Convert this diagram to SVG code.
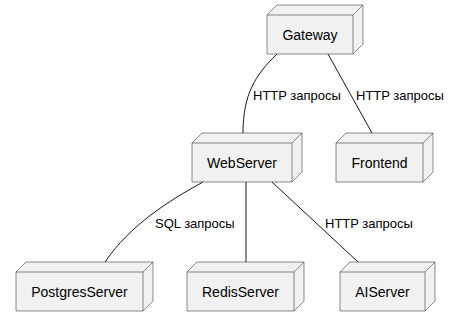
<svg xmlns="http://www.w3.org/2000/svg" width="450" height="326" viewBox="0 0 450 326">
  <style>
    .box { fill: #F1F1F1; stroke: #181818; stroke-width: 0.5; }
    .edge { fill: none; stroke: #181818; stroke-width: 1; }
    .name { font-family: "Liberation Sans", Arial, sans-serif; font-size: 14px; fill: #000000; text-anchor: middle; }
    .lbl { font-family: "Liberation Sans", Arial, sans-serif; font-size: 13px; fill: #000000; }
  </style>
  <rect width="450" height="326" fill="#FFFFFF"/>

  <!-- connectors -->
  <g id="edges">
    <path class="edge" d="M277,54 C255,75 243,95 243,133"/>
    <text class="lbl" x="253" y="100">HTTP запросы</text>
    <path class="edge" d="M328,54 L372,133"/>
    <text class="lbl" x="356" y="100">HTTP запросы</text>
    <path class="edge" d="M203,182 C170,200 130,225 105,262"/>
    <text class="lbl" x="155" y="228">SQL запросы</text>
    <path class="edge" d="M246,182 L246,262"/>
    <path class="edge" d="M272,182 L358,262"/>
    <text class="lbl" x="325" y="228">HTTP запросы</text>
  </g>

  <!-- nodes: 3D boxes, depth 10 -->
  <g id="gateway">
    <path class="box" d="M267,15 L277,5 L363,5 L363,44 L353,54 L267,54 Z M353,15 L363,5 M267,15 L353,15 L353,54"/>
    <text class="name" x="310" y="39.5">Gateway</text>
  </g>
  <g id="webserver">
    <path class="box" d="M192,143 L202,133 L302,133 L302,172 L292,182 L192,182 Z M292,143 L302,133 M192,143 L292,143 L292,182"/>
    <text class="name" x="242" y="167.5">WebServer</text>
  </g>
  <g id="frontend">
    <path class="box" d="M336,143 L346,133 L433,133 L433,172 L423,182 L336,182 Z M423,143 L433,133 M336,143 L423,143 L423,182"/>
    <text class="name" x="379.5" y="167.5">Frontend</text>
  </g>
  <g id="postgresserver">
    <path class="box" d="M16,272 L26,262 L153,262 L153,301 L143,311 L16,311 Z M143,272 L153,262 M16,272 L143,272 L143,311"/>
    <text class="name" x="79.5" y="296.5">PostgresServer</text>
  </g>
  <g id="redisserver">
    <path class="box" d="M187,272 L197,262 L304,262 L304,301 L294,311 L187,311 Z M294,272 L304,262 M187,272 L294,272 L294,311"/>
    <text class="name" x="240.5" y="296.5">RedisServer</text>
  </g>
  <g id="aiserver">
    <path class="box" d="M340,272 L350,262 L435,262 L435,301 L425,311 L340,311 Z M425,272 L435,262 M340,272 L425,272 L425,311"/>
    <text class="name" x="382.5" y="296.5">AIServer</text>
  </g>
</svg>
